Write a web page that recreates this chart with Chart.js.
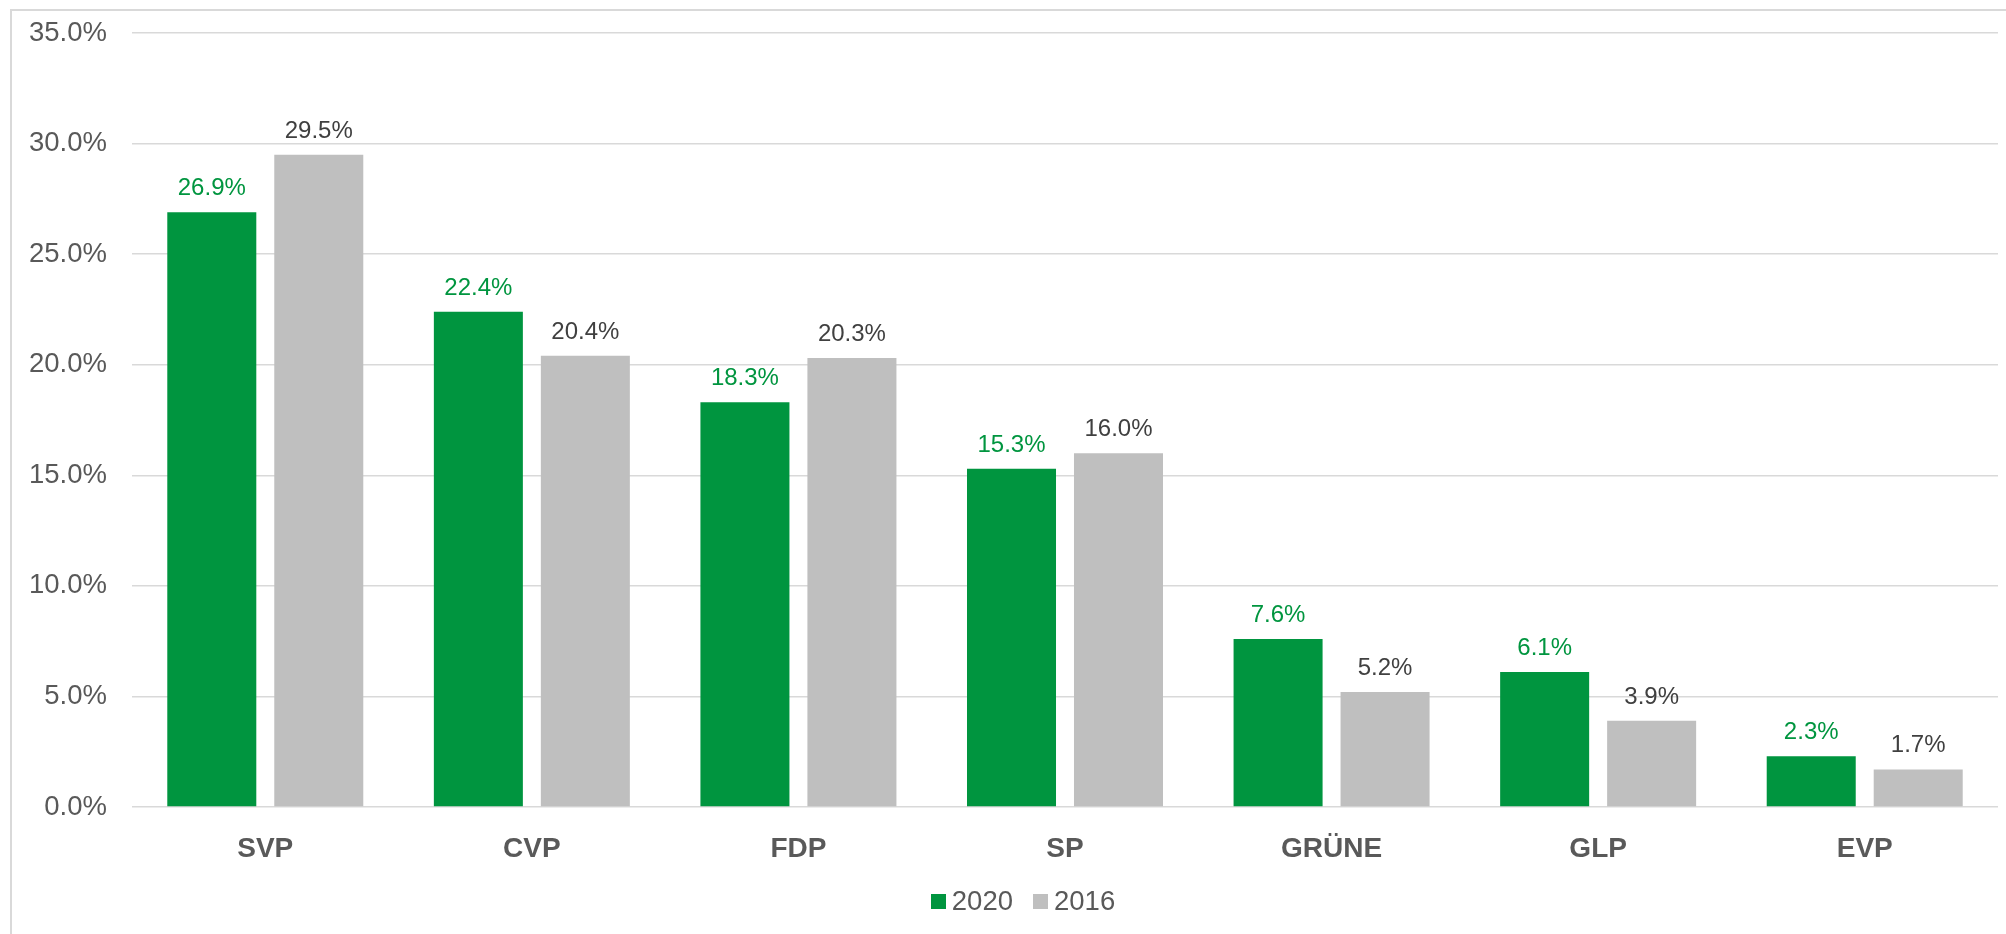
<!DOCTYPE html>
<html>
<head>
<meta charset="utf-8">
<script src="https://cdn.jsdelivr.net/npm/chart.js@4"></script>
<style>
    html, body { margin: 0; padding: 0; background: #ffffff; }
    #wrap { position: relative; width: 2006px; height: 934px; overflow: hidden; }
    #rand {
        position: absolute; left: 10px; top: 9px; width: 2010px; height: 940px;
        border-top: 2px solid #d9d9d9; border-left: 2px solid #d9d9d9;
    }
    #grafiek { position: absolute; left: 0; top: 0; }
    #legenda {
        position: absolute; left: 20px; width: 2006px; top: 884px; height: 34px;
        display: flex; justify-content: center; align-items: center;
        font-family: "Liberation Sans", Arial, sans-serif; font-size: 27.5px; color: #595959;
    }
    .item { display: flex; align-items: center; margin: 0 10px; }
    .blok { width: 15px; height: 15px; margin-right: 6px; }
</style>
</head>
<body>
<div id="wrap">
    <div id="rand"></div>
    <canvas id="grafiek" width="2006" height="934"></canvas>
    <div id="legenda"></div>
</div>
<script>
"use strict";

// Partijen en stemaandelen (in procenten)
const partijen = ["SVP", "CVP", "FDP", "SP", "GRÜNE", "GLP", "EVP"];
const waarden2020 = [26.9, 22.4, 18.3, 15.3, 7.6, 6.1, 2.3];
const waarden2016 = [29.5, 20.4, 20.3, 16.0, 5.2, 3.9, 1.7];
const jaren = ["2020", "2016"];
const kleuren = ["#00953f", "#bfbfbf"];
const labelKleuren = ["#00953f", "#404040"];

const lettertype = "'Liberation Sans', Arial, sans-serif";

// Zet boven elke staaf de waarde als tekst.
const waardeLabels = {
    id: "waardeLabels",
    afterDatasetsDraw(chart) {
        const ctx = chart.ctx;
        ctx.save();
        ctx.font = "24px " + lettertype;
        ctx.textAlign = "center";
        ctx.textBaseline = "alphabetic";
        chart.data.datasets.forEach((ds, i) => {
            const meta = chart.getDatasetMeta(i);
            ctx.fillStyle = labelKleuren[i];
            meta.data.forEach((staaf, j) => {
                ctx.fillText(ds.data[j].toFixed(1) + "%", staaf.x, staaf.y - 17);
            });
        });
        ctx.restore();
    }
};

// Eigen legenda onder de grafiek
const legenda = document.getElementById("legenda");
jaren.forEach((jaar, i) => {
    const item = document.createElement("div");
    item.className = "item";
    item.innerHTML = `<span class="blok" style="background:${kleuren[i]}"></span><span>${jaar}</span>`;
    legenda.appendChild(item);
});

const ctx = document.getElementById("grafiek").getContext("2d");
new Chart(ctx, {
    type: "bar",
    data: {
        labels: partijen,
        datasets: [
            { label: jaren[0], data: waarden2020, backgroundColor: kleuren[0] },
            { label: jaren[1], data: waarden2016, backgroundColor: kleuren[1] }
        ]
    },
    options: {
        responsive: false,
        animation: false,
        categoryPercentage: 0.8027,
        barPercentage: 0.832,
        layout: { padding: { left: 0, top: 33, right: 8, bottom: 0 } },
        plugins: {
            legend: { display: false },
            tooltip: { enabled: false }
        },
        scales: {
            x: {
                grid: { display: false },
                border: { display: false },
                ticks: {
                    padding: 17,
                    color: "#595959",
                    font: { family: lettertype, size: 28, weight: "bold" }
                },
                afterFit(scale) { scale.height = 127; }
            },
            y: {
                min: 0,
                max: 35,
                grid: { color: "#d9d9d9", lineWidth: 1.5, drawTicks: false },
                border: { display: false },
                ticks: {
                    stepSize: 5,
                    padding: 25,
                    color: "#595959",
                    font: { family: lettertype, size: 27.5 },
                    callback: v => v.toFixed(1) + "%"
                },
                afterFit(scale) {
                    // Vaste breedte en geen extra ruimte boven/onder de as
                    scale.width = 132;
                    scale.paddingTop = 0;
                    scale.paddingBottom = 0;
                }
            }
        }
    },
    plugins: [waardeLabels]
});
</script>
</body>
</html>
